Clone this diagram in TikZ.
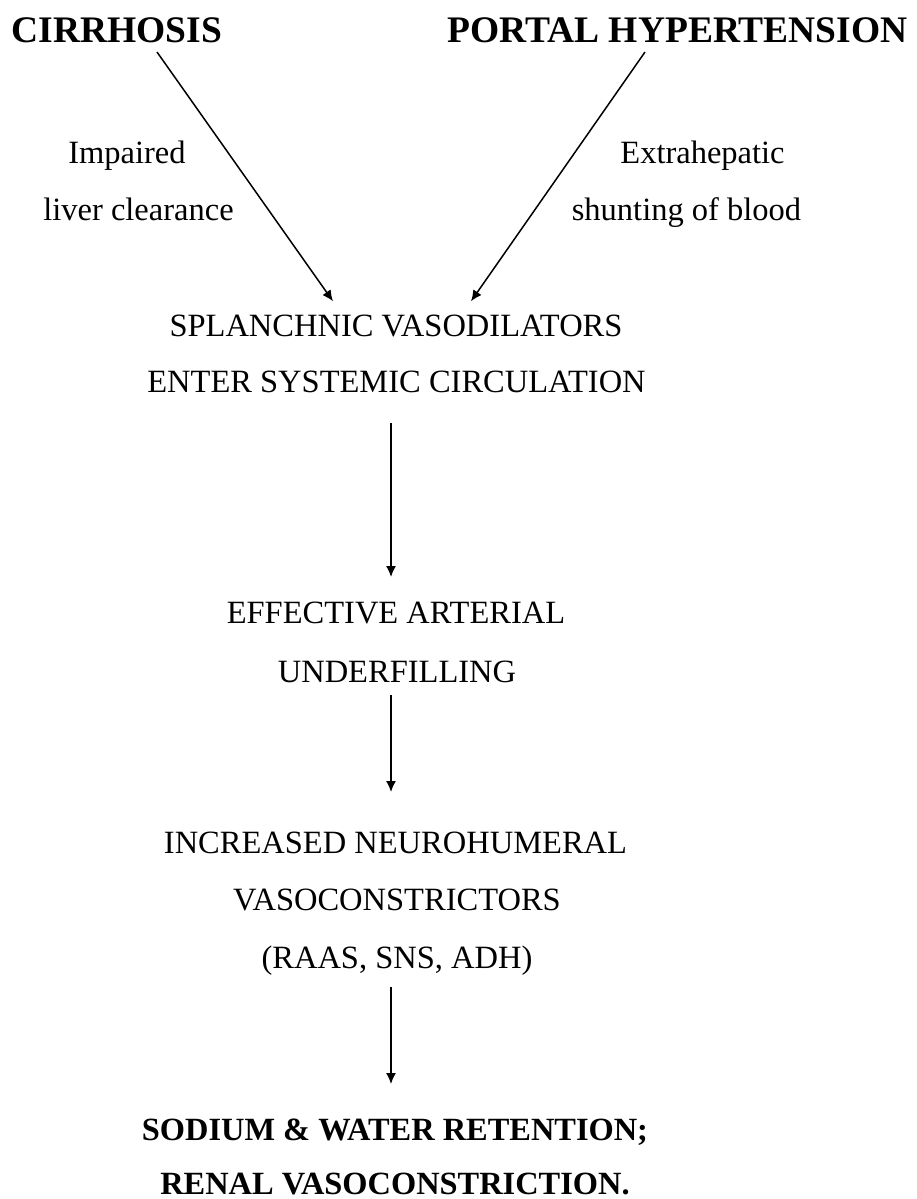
\documentclass[tikz,border=0pt]{standalone}
\usepackage{fontspec}
\setmainfont{Liberation Serif}
\usetikzlibrary{arrows.meta}
\tikzset{
  txt/.style={inner sep=0pt,anchor=base,font=\fontsize{32.5}{38}\selectfont},
  head/.style={inner sep=0pt,anchor=base,font=\fontsize{37.5}{44}\selectfont\bfseries},
  final/.style={inner sep=0pt,anchor=base,font=\fontsize{32.4}{38}\selectfont\bfseries},
  arr/.style={-{Latex[length=11pt,width=10pt]},line width=1.5pt},
}
\begin{document}
\begin{tikzpicture}[x=1pt,y=-1pt]
  \useasboundingbox (0,0) rectangle (917,1199);

  % causes
  \node[head] (cirr) at (117,43) {CIRRHOSIS};
  \node[head] (portal) at (677.5,43) {PORTAL HYPERTENSION};

  \node[txt] (imp1) at (127,163) {Impaired};
  \node[txt] (imp2) at (138.5,220) {liver clearance};
  \node[txt] (ext1) at (702.5,163) {Extrahepatic};
  \node[txt] (ext2) at (686.5,220) {shunting of blood};

  % chain
  \node[txt] (splanch) at (396,336) {SPLANCHNIC VASODILATORS};
  \node[txt] (enter) at (396.5,392) {ENTER SYSTEMIC CIRCULATION};
  \node[txt] (eff) at (396,623) {EFFECTIVE ARTERIAL};
  \node[txt] (under) at (397,682) {UNDERFILLING};
  \node[txt] (incr) at (395.5,853) {INCREASED NEUROHUMERAL};
  \node[txt] (vaso) at (397,910) {VASOCONSTRICTORS};
  \node[txt] (raas) at (397,968) {(RAAS, SNS, ADH)};
  \node[final] (sod) at (395,1140) {SODIUM \& WATER RETENTION;};
  \node[final] (renal) at (395,1194) {RENAL VASOCONSTRICTION.};

  \draw[arr] ([xshift=40pt,yshift=-9pt]cirr.base) -- ([xshift=-63pt,yshift=13pt]splanch.north);
  \draw[arr] ([xshift=-32.5pt,yshift=-9pt]portal.base) -- ([xshift=75pt,yshift=13pt]splanch.north);

  \draw[arr] ([xshift=-5.5pt,yshift=-31pt]enter.base) -- ([xshift=-5pt,yshift=46pt]eff.base);
  \draw[arr] ([xshift=-6pt,yshift=-13pt]under.base) -- ([xshift=-4.5pt,yshift=61pt]incr.base);
  \draw[arr] ([xshift=-6pt,yshift=-19pt]raas.base) -- ([xshift=-4pt,yshift=56pt]sod.base);
\end{tikzpicture}
\end{document}
